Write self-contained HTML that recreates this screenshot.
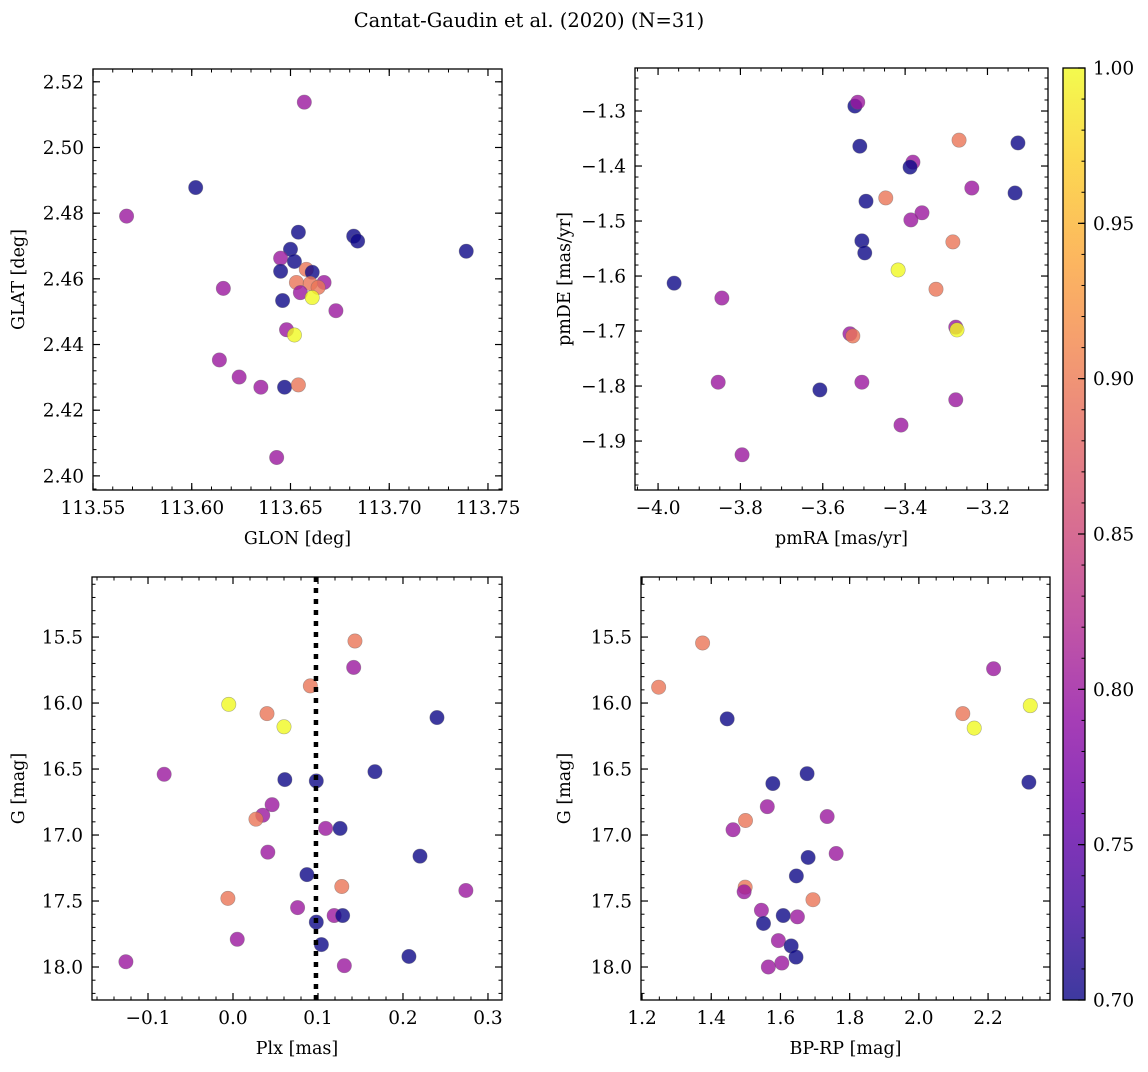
<!DOCTYPE html>
<html><head><meta charset="utf-8"><style>
body{margin:0;background:#fff;}
svg text{font-family:"DejaVu Serif","Liberation Serif",serif;fill:#000;}
</style></head><body>
<svg id="fig" width="1148" height="1067" viewBox="0 0 1148 1067" xmlns="http://www.w3.org/2000/svg">
<defs>
<linearGradient id="plasma" x1="0" y1="1" x2="0" y2="0">
<stop offset="0" stop-color="#0d0887"/><stop offset="0.1" stop-color="#41049d"/><stop offset="0.2" stop-color="#6a00a8"/><stop offset="0.3" stop-color="#8f0da4"/><stop offset="0.4" stop-color="#b12a90"/><stop offset="0.5" stop-color="#cc4778"/><stop offset="0.6" stop-color="#e16462"/><stop offset="0.7" stop-color="#f2844b"/><stop offset="0.8" stop-color="#fca636"/><stop offset="0.9" stop-color="#fcce25"/><stop offset="1" stop-color="#f0f921"/>
</linearGradient>
</defs>
<text x="529" y="27" font-size="19.5" text-anchor="middle">Cantat-Gaudin et al. (2020) (N=31)</text>
</svg>
<script>
// ---- data: panel 1 (GLON / GLAT) ----
const glonX = [113.657,113.602,113.567,113.654,113.682,113.684,113.739,113.650,113.645,113.652,113.645,113.658,113.661,113.667,113.653,113.660,113.664,113.655,113.661,113.616,113.646,113.673,113.648,113.652,113.614,113.624,113.635,113.647,113.654,113.643];
const glatY = [2.5138,2.4878,2.4791,2.4742,2.4730,2.4715,2.4684,2.4690,2.4663,2.4653,2.4623,2.4629,2.4620,2.4589,2.4589,2.4586,2.4574,2.4558,2.4543,2.4571,2.4534,2.4503,2.4445,2.4429,2.4353,2.4301,2.4270,2.4270,2.4277,2.4056];
const glC = [0.80,0.70,0.80,0.70,0.70,0.70,0.70,0.70,0.80,0.70,0.70,0.895,0.70,0.80,0.895,0.895,0.895,0.80,1.0,0.80,0.70,0.80,0.80,1.0,0.80,0.80,0.80,0.70,0.895,0.80];
// ---- data: panel 2 (pmRA / pmDE) ----
const pmraX = [-3.522,-3.515,-3.510,-3.269,-3.126,-3.381,-3.388,-3.238,-3.133,-3.447,-3.495,-3.359,-3.386,-3.505,-3.284,-3.498,-3.417,-3.961,-3.325,-3.845,-3.277,-3.274,-3.534,-3.527,-3.854,-3.505,-3.607,-3.277,-3.410,-3.796];
const pmdeY = [-1.291,-1.284,-1.364,-1.353,-1.358,-1.393,-1.402,-1.440,-1.449,-1.458,-1.464,-1.485,-1.498,-1.536,-1.538,-1.558,-1.589,-1.613,-1.624,-1.640,-1.693,-1.698,-1.705,-1.709,-1.793,-1.793,-1.807,-1.825,-1.871,-1.925];
const pmC = [0.70,0.80,0.70,0.895,0.70,0.80,0.70,0.80,0.70,0.895,0.70,0.80,0.80,0.70,0.895,0.70,1.0,0.70,0.895,0.80,0.80,1.0,0.80,0.895,0.80,0.80,0.70,0.80,0.80,0.80];
// ---- data: panel 3 (Plx / G) ----
const plxX = [0.1435,0.142,0.091,-0.005,0.040,0.240,0.060,-0.081,0.167,0.061,0.098,0.046,0.035,0.027,0.109,0.126,0.041,0.220,0.087,0.128,0.274,-0.006,0.076,0.119,0.129,0.098,0.005,0.104,0.207,-0.126,0.131];
const plxG = [15.53,15.73,15.87,16.01,16.08,16.11,16.18,16.54,16.52,16.58,16.59,16.77,16.85,16.88,16.95,16.95,17.13,17.16,17.30,17.39,17.42,17.48,17.55,17.61,17.61,17.66,17.79,17.83,17.92,17.96,17.99];
const plxC = [0.895,0.80,0.895,1.0,0.895,0.70,1.0,0.80,0.70,0.70,0.70,0.80,0.80,0.895,0.80,0.70,0.80,0.70,0.70,0.895,0.80,0.895,0.80,0.80,0.70,0.70,0.80,0.70,0.70,0.80,0.80];
const plxRef = [0.0976];
// ---- data: panel 4 (BP-RP / G) ----
const bprpX = [1.375,1.248,1.446,2.216,2.322,2.127,2.160,2.318,1.677,1.578,1.562,1.735,1.499,1.463,1.761,1.680,1.646,1.498,1.495,1.694,1.545,1.608,1.649,1.551,1.594,1.631,1.645,1.604,1.565];
const bprpG = [15.545,15.88,16.12,15.74,16.02,16.08,16.19,16.60,16.535,16.61,16.785,16.86,16.89,16.96,17.14,17.17,17.31,17.395,17.43,17.49,17.57,17.61,17.62,17.67,17.80,17.84,17.925,17.97,18.00];
const bprpC = [0.895,0.895,0.70,0.80,1.0,0.895,1.0,0.70,0.70,0.70,0.80,0.80,0.895,0.80,0.80,0.70,0.70,0.895,0.80,0.895,0.80,0.70,0.80,0.70,0.80,0.70,0.70,0.80,0.80];
// ---- tick labels ----
const p1XTicks = [113.55,113.60,113.65,113.70,113.75];
const p1YTicks = [2.40,2.42,2.44,2.46,2.48,2.50,2.52];
const p2XTicks = [-4.0,-3.8,-3.6,-3.4,-3.2];
const p2YTicks = [-1.9,-1.8,-1.7,-1.6,-1.5,-1.4,-1.3];
const p3XTicks = [-0.1,0.0,0.1,0.2,0.3];
const gTicks = [15.5,16.0,16.5,17.0,17.5,18.0];
const p4XTicks = [1.2,1.4,1.6,1.8,2.0,2.2];
const cbTicks = [0.70,0.75,0.80,0.85,0.90,0.95,1.00];

const NS='http://www.w3.org/2000/svg';
const svg=document.getElementById('fig');
const TF=18.5, LF=17.5;
function mk(tag,attrs,parent){const e=document.createElementNS(NS,tag);for(const k in attrs)e.setAttribute(k,attrs[k]);(parent||svg).appendChild(e);return e;}
const stops=[[0,[13,8,135]],[0.1,[65,4,157]],[0.2,[106,0,168]],[0.3,[143,13,164]],[0.4,[177,42,144]],[0.5,[204,71,120]],[0.6,[225,100,98]],[0.7,[242,132,75]],[0.8,[252,166,54]],[0.9,[252,206,37]],[1,[240,249,33]]];
function plasma(v){let t=Math.max(0,Math.min(1,(v-0.7)/0.3));for(let i=0;i<stops.length-1;i++){if(t<=stops[i+1][0]){const a=stops[i],b=stops[i+1],f=(t-a[0])/(b[0]-a[0]);return 'rgb('+a[1].map((c,j)=>Math.round(c+f*(b[1][j]-c))).join(',')+')';}}return 'rgb(240,249,33)';}
function neg(v,d){return (v<0?'\u2212':'')+Math.abs(v).toFixed(d);}

function panel(o){
  const g=mk('g',{});
  
  
  const sx=v=>o.L+(v-o.x0)/(o.x1-o.x0)*(o.R-o.L);
  const sy=v=>o.B-(v-o.y0)/(o.y1-o.y0)*(o.B-o.T);
  const pts=mk('g',{},g);
  
  
  for(let i=0;i<o.xs.length;i++){
    const c=mk('circle',{cx:sx(o.xs[i]),cy:sy(o.ys[i]),r:7.2,fill:plasma(o.cs[i]),'fill-opacity':0.8,stroke:'#666','stroke-opacity':0.5,'stroke-width':0.6},pts);
    
    
  }
  if(o.vline){for(const v of o.vline){const l=mk('line',{x1:sx(v),x2:sx(v),y1:o.T,y2:o.B,stroke:'#000','stroke-width':4.5,'stroke-dasharray':'5 6'},g);
    
    }}
  const fr=mk('rect',{x:o.L,y:o.T,width:o.R-o.L,height:o.B-o.T,fill:'none',stroke:'#000','stroke-width':1.3},g);
  
  
  const xm0=Math.ceil(o.x0/o.xm-1e-6),xm1=Math.floor(o.x1/o.xm+1e-6);
  for(let k=xm0;k<=xm1;k++){const x=sx(k*o.xm);mk('line',{x1:x,x2:x,y1:o.B,y2:o.B-3.5,stroke:'#000','stroke-width':1},g);mk('line',{x1:x,x2:x,y1:o.T,y2:o.T+3.5,stroke:'#000','stroke-width':1},g);}
  const ym0=Math.ceil(Math.min(o.y0,o.y1)/o.ym-1e-6),ym1=Math.floor(Math.max(o.y0,o.y1)/o.ym+1e-6);
  for(let k=ym0;k<=ym1;k++){const y=sy(k*o.ym);mk('line',{x1:o.L,x2:o.L+3.5,y1:y,y2:y,stroke:'#000','stroke-width':1},g);mk('line',{x1:o.R,x2:o.R-3.5,y1:y,y2:y,stroke:'#000','stroke-width':1},g);}
  for(const v of o.xt){const x=sx(v);mk('line',{x1:x,x2:x,y1:o.B,y2:o.B-7,stroke:'#000','stroke-width':1.2},g);mk('line',{x1:x,x2:x,y1:o.T,y2:o.T+7,stroke:'#000','stroke-width':1.2},g);
    const t=mk('text',{x:x,y:o.B+24,'font-size':TF,'text-anchor':'middle'},g);t.textContent=neg(v,o.xd);
    
    }
  for(const v of o.yt){const y=sy(v);mk('line',{x1:o.L,x2:o.L+7,y1:y,y2:y,stroke:'#000','stroke-width':1.2},g);mk('line',{x1:o.R,x2:o.R-7,y1:y,y2:y,stroke:'#000','stroke-width':1.2},g);
    const t=mk('text',{x:o.L-9,y:y+6.5,'font-size':TF,'text-anchor':'end'},g);t.textContent=neg(v,o.yd);
    
    }
  const xl=mk('text',{x:(o.L+o.R)/2,y:o.B+54,'font-size':LF,'text-anchor':'middle'},g);xl.textContent=o.xlab;
  
  
  const yx=o.ylx, yy=(o.T+o.B)/2;
  const yl=mk('text',{x:yx,y:yy,'font-size':LF,'text-anchor':'middle',transform:'rotate(-90 '+yx+' '+yy+')'},g);yl.textContent=o.ylab;
  
  
}
panel({name:'glon-glat-panel',L:93,R:502,T:69,B:490,x0:113.55,x1:113.7571,y0:2.3957,y1:2.5239,xs:glonX,ys:glatY,cs:glC,xt:p1XTicks,yt:p1YTicks,xm:0.01,ym:0.004,xd:2,yd:2,xlab:'GLON [deg]',ylab:'GLAT [deg]',ylx:24});
panel({name:'proper-motion-panel',L:635,R:1048,T:68,B:490,x0:-4.056,x1:-3.053,y0:-1.989,y1:-1.2218,xs:pmraX,ys:pmdeY,cs:pmC,xt:p2XTicks,yt:p2YTicks,xm:0.05,ym:0.02,xd:1,yd:1,xlab:'pmRA [mas/yr]',ylab:'pmDE [mas/yr]',ylx:570});
panel({name:'parallax-mag-panel',L:92,R:502,T:577,B:1000,x0:-0.1659,x1:0.3165,y0:18.25,y1:15.045,xs:plxX,ys:plxG,cs:plxC,xt:p3XTicks,yt:gTicks,xm:0.02,ym:0.1,xd:1,yd:1,xlab:'Plx [mas]',ylab:'G [mag]',ylx:24,vline:plxRef});
panel({name:'cmd-panel',L:641,R:1050,T:577,B:1000,x0:1.197,x1:2.379,y0:18.25,y1:15.045,xs:bprpX,ys:bprpG,cs:bprpC,xt:p4XTicks,yt:gTicks,xm:0.05,ym:0.1,xd:1,yd:1,xlab:'BP-RP [mag]',ylab:'G [mag]',ylx:570});
const cb=mk('g',{});


const cL=1063,cR=1085,cT=68,cB=1000;
mk('rect',{x:cL,y:cT,width:cR-cL,height:cB-cT,fill:'url(#plasma)','fill-opacity':0.8},cb);
mk('rect',{x:cL,y:cT,width:cR-cL,height:cB-cT,fill:'none',stroke:'#000','stroke-width':1.3},cb);
const cy=v=>cB-(v-0.7)/0.3*(cB-cT);
for(let k=70;k<=100;k++){const y=cy(k/100);mk('line',{x1:cR,x2:cR-3.5,y1:y,y2:y,stroke:'#000','stroke-width':1},cb);}
for(const v of cbTicks){const y=cy(v);mk('line',{x1:cR,x2:cR-7,y1:y,y2:y,stroke:'#000','stroke-width':1.2},cb);
  const t=mk('text',{x:cR+8,y:y+6.5,'font-size':TF},cb);t.textContent=v.toFixed(2);
  
  }
</script>
</body></html>
